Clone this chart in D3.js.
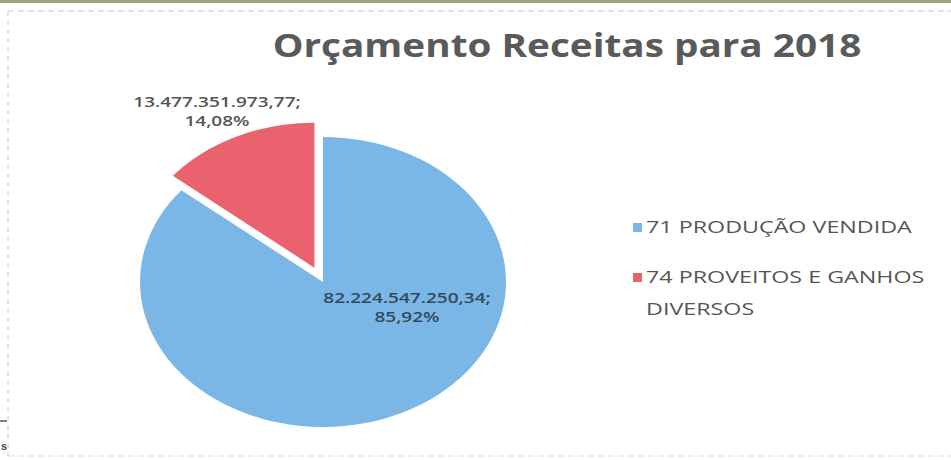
<!DOCTYPE html>
<html>
<head>
<meta charset="utf-8">
<script src="https://cdn.jsdelivr.net/npm/d3@7"></script>
<style>
  body { margin: 0; background: #fff; }
  svg { display: block; }
</style>
</head>
<body>
<div class="chart"></div>
<script>
// dados do grafico
var categorias = ["71 PRODUÇÃO VENDIDA", "74 PROVEITOS E GANHOS DIVERSOS"];
var valores = [82224547250.34, 13477351973.77];
var rotulosValor = ["82.224.547.250,34;", "13.477.351.973,77;"];
var rotulosPct = ["85,92%", "14,08%"];
var legendaLinhas = [["71 PRODUÇÃO VENDIDA"], ["74 PROVEITOS E GANHOS", "DIVERSOS"]];
var titulo = "Orçamento Receitas para 2018";

var width = 951, height = 460;
var cx = 323, cy = 282, r = 183, sy = 145 / 183;
var explode = 20;
var esticar = 1.36; // a imagem digitalizada esta esticada na horizontal
var cores = ["#7ab7e7", "#ea626e"];

var svg = d3.select('.chart')
    .append('svg')
    .attr('width', width)
    .attr('height', height);

// moldura (scan)
svg.append('rect').attr('x', 0).attr('y', 0).attr('width', width).attr('height', 3).attr('fill', '#9aa77a');
svg.append('line').attr('x1', 8).attr('x2', width).attr('y1', 11).attr('y2', 11)
    .attr('stroke', '#c8c8c8').attr('stroke-dasharray', '6,4').attr('stroke-width', 1);
svg.append('line').attr('x1', 8).attr('x2', 8).attr('y1', 11).attr('y2', 456)
    .attr('stroke', '#c8c8c8').attr('stroke-dasharray', '5,4').attr('stroke-width', 1);
svg.append('line').attr('x1', 8).attr('x2', width).attr('y1', 456).attr('y2', 456)
    .attr('stroke', '#dcdcdc').attr('stroke-dasharray', '6,4').attr('stroke-width', 1);
svg.append('line').attr('x1', 0).attr('x2', 7).attr('y1', 421).attr('y2', 421)
    .attr('stroke', '#555').attr('stroke-width', 1.5);
svg.append('text').attr('x', 1).attr('y', 450).text('s')
    .attr('font-family', 'Liberation Sans').attr('font-size', 11).attr('font-weight', 'bold').attr('fill', '#444');

// texto esticado na horizontal, como no original
function texto(x, y, s, opts) {
    var t = svg.append('text')
        .attr('x', 0).attr('y', 0)
        .attr('font-family', 'Open Sans')
        .attr('font-weight', opts.weight || 'normal')
        .attr('font-size', opts.size)
        .attr('fill', opts.fill)
        .attr('text-anchor', opts.anchor || 'start')
        .text(s);
    t.attr('transform', 'translate(' + x + ',' + y + ') scale(' + opts.sx + ',1)');
    return t;
}

// titulo
texto(567, 57, titulo, { weight: 'bold', size: 32, fill: '#5a5a5a', anchor: 'middle', sx: 1.21 });

// pizza
var pie = d3.pie().sort(null).value(d => d);
var arcs = pie(valores);
var arc = d3.arc().innerRadius(0).outerRadius(r);

var gPie = svg.append('g')
    .attr('transform', 'translate(' + cx + ',' + cy + ') scale(1,' + sy + ')');

gPie.selectAll('path')
    .data(arcs)
    .enter()
    .append('path')
    .attr('d', arc)
    .attr('fill', (d, i) => cores[i])
    .attr('transform', (d, i) => {
        if (i === 0) return null;
        var a = (d.startAngle + d.endAngle) / 2;
        return 'translate(' + (Math.sin(a) * explode) + ',' + (-Math.cos(a) * explode) + ')';
    });

// rotulos de dados
var posRotulos = [[407, 303], [217, 107]];
var corRotulos = ["#34495c", "#555555"];
arcs.forEach((d, i) => {
    var o = { weight: 600, size: 14, fill: corRotulos[i], anchor: 'middle', sx: esticar };
    texto(posRotulos[i][0], posRotulos[i][1], rotulosValor[i], o);
    texto(posRotulos[i][0], posRotulos[i][1] + 19, rotulosPct[i], o);
});

// legenda
var legY = [233, 283];
categorias.forEach((c, i) => {
    svg.append('rect')
        .attr('x', 633).attr('y', legY[i] - 10)
        .attr('width', 9).attr('height', 9)
        .attr('fill', cores[i]);
    legendaLinhas[i].forEach((l, j) => {
        texto(646, legY[i] + j * 32, l, { size: 17, fill: '#555', sx: 1.37 });
    });
});
</script>
</body>
</html>
